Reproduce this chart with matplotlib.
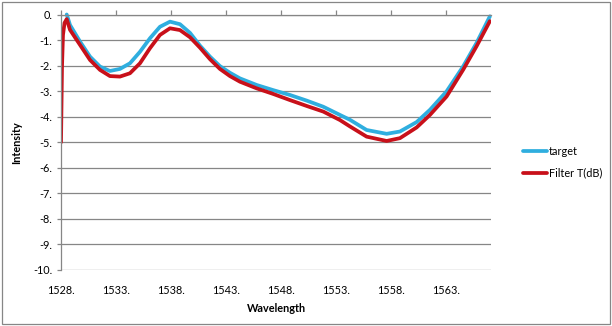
import matplotlib.pyplot as plt
from matplotlib.patches import Rectangle
from matplotlib.ticker import FuncFormatter, MultipleLocator

# values
target_wl = [1528.52, 1528.82, 1529.73, 1530.64, 1531.55, 1532.45, 1533.36, 1534.27,
             1535.18, 1536.09, 1537.0, 1537.91, 1538.82, 1539.73, 1540.64, 1541.55,
             1542.45, 1543.36, 1544.27, 1545.8, 1547.3, 1548.82, 1550.34, 1551.85,
             1553.36, 1554.27, 1555.79, 1557.61, 1558.82, 1560.34, 1561.55, 1563.06,
             1564.57, 1565.79, 1567.0]
target_db = [0.0, -0.41, -1.06, -1.65, -2.04, -2.21, -2.13, -1.91,
             -1.46, -0.93, -0.48, -0.28, -0.38, -0.72, -1.22, -1.65,
             -2.02, -2.28, -2.50, -2.76, -2.96, -3.15, -3.37, -3.61,
             -3.93, -4.12, -4.52, -4.67, -4.58, -4.21, -3.73, -3.01,
             -2.03, -1.11, -0.07]

filter_wl = [1528.0, 1528.09, 1528.18, 1528.32, 1528.52, 1528.82, 1529.73, 1530.64,
             1531.55, 1532.45, 1533.36, 1534.27, 1535.18, 1536.09, 1537.0, 1537.91,
             1538.82, 1539.73, 1540.64, 1541.55, 1542.45, 1543.36, 1544.27, 1545.79,
             1547.3, 1548.82, 1550.34, 1551.85, 1553.36, 1554.27, 1555.79, 1557.61,
             1558.82, 1560.34, 1561.55, 1563.06, 1564.57, 1565.79, 1567.0]
filter_db = [-5.0, -2.05, -0.8, -0.33, -0.18, -0.60, -1.19, -1.78,
             -2.17, -2.41, -2.43, -2.30, -1.91, -1.32, -0.80, -0.54,
             -0.61, -0.89, -1.30, -1.75, -2.13, -2.41, -2.63, -2.89,
             -3.11, -3.35, -3.58, -3.80, -4.13, -4.38, -4.78, -4.95,
             -4.84, -4.42, -3.93, -3.21, -2.16, -1.24, -0.26]

x_ticks = [1528, 1533, 1538, 1543, 1548, 1553, 1558, 1563]

plt.rcParams['font.family'] = ['Lato', 'DejaVu Sans']

fig = plt.figure(figsize=(6.12, 3.26), dpi=100)
ax = fig.add_axes([61/612, 1 - 270/326, 430/612, (270 - 14.5)/326])

grey = '#868686'
ax.plot(target_wl, target_db, color='#2FAEDF', lw=2.7, label='target', solid_capstyle='round',
        solid_joinstyle='round', clip_on=False)
ax.plot(filter_wl, filter_db, color='#C8101A', lw=2.7, label='Filter T(dB)', solid_capstyle='round',
        solid_joinstyle='round')

ax.set_xlim(1528, 1567.1)
ax.set_ylim(-10, 0)
ax.set_xticks(x_ticks)
ax.yaxis.set_major_locator(MultipleLocator(1))
ax.xaxis.set_major_formatter(FuncFormatter(lambda v, p: '%d.' % round(v)))
ax.yaxis.set_major_formatter(FuncFormatter(lambda v, p: '%d.' % round(v) if round(v) != 0 else '0.'))

ax.grid(axis='y', color=grey, lw=0.9)
ax.set_axisbelow(True)
for s in ['right', 'bottom']:
    ax.spines[s].set_visible(False)
for s in ['left', 'top']:
    ax.spines[s].set_color(grey)
    ax.spines[s].set_linewidth(0.9)

# x axis crosses at 0: ticks on top, labels at the bottom
ax.tick_params(axis='x', top=True, bottom=False, labeltop=False, labelbottom=True,
               direction='out', length=3.5, width=0.9, color=grey, labelsize=7.8, pad=7)
ax.tick_params(axis='y', direction='out', length=3, width=0.9, color=grey, labelsize=7.8, pad=3)

ax.set_xlabel('Wavelength', fontsize=7.8, fontweight='bold', labelpad=5)
ax.set_ylabel('Intensity', fontsize=7.8, fontweight='bold', labelpad=8)

ax.legend(loc='center left', bbox_to_anchor=(519/612, 1 - 162/326), bbox_transform=fig.transFigure,
          frameon=False, fontsize=7.8, handlelength=2.2, handletextpad=0.15, labelspacing=1.0,
          borderaxespad=0)

fig.patches.append(Rectangle((1.5/612, 2/326), 608.5/612, 322/326, transform=fig.transFigure,
                             fill=False, edgecolor=grey, lw=0.9))

fig.savefig('out.png', dpi=100)
